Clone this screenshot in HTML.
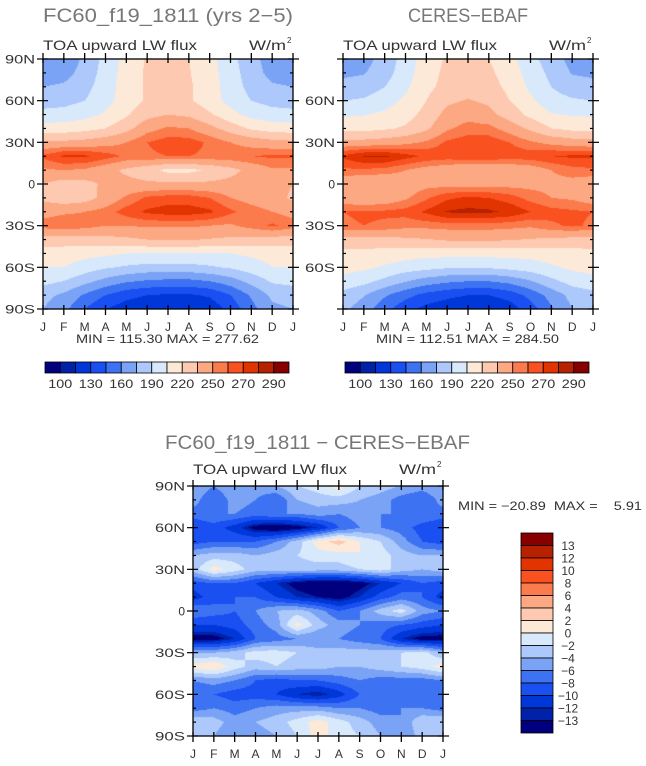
<!DOCTYPE html>
<html><head><meta charset="utf-8">
<style>
html,body{margin:0;padding:0;background:#fff;}
#wrap{position:relative;width:646px;height:766px;overflow:hidden;}
canvas{position:absolute;}
svg{position:absolute;left:0;top:0;}
text{font-family:"Liberation Sans",sans-serif;}
</style></head>
<body>
<div id="wrap">
<canvas id="c1" width="250" height="250" style="left:43px;top:59px"></canvas>
<canvas id="c2" width="250" height="250" style="left:343px;top:59px"></canvas>
<canvas id="c3" width="250" height="250" style="left:193px;top:486px"></canvas>
<svg id="ov" width="646" height="766"></svg>
</div>
<script>
const months = ["J","F","M","A","M","J","J","A","S","O","N","D","J"];
const latTicks = ["90N","60N","30N","0","30S","60S","90S"];
const rightLatTicks = ["60N","30N","0","30S","60S"];
const absLevels = [100,115,130,145,160,175,190,205,220,235,250,260,270,280,290];
const absLabels = ["100","130","160","190","220","250","270","290"];
const diffLevels = [-13,-12,-10,-8,-6,-4,-2,0,2,4,6,8,10,12,13];
const diffLabels = ["13","12","10","8","6","4","2","0","\u22122","\u22124","\u22126","\u22128","\u221210","\u221212","\u221213"];
const palette = ["#00007f","#0021a8","#0037d8","#1a4ff2","#3d72f2","#7ba3f5","#adc8fa","#d8e9fc","#fde9d8","#fdc9b0","#fca883","#fb7b4c","#fa5121","#e13400","#b62100","#870000"];
// rows: 90N,80N,...,90S ; columns: J..J (13)
const modelField = [
[165,165,178,195,210,222,224,220,210,195,180,168,165],
[168,170,180,197,211,222,224,221,211,197,182,170,168],
[175,177,185,198,212,222,224,222,212,198,185,177,175],
[183,185,190,200,212,222,226,222,212,200,190,185,183],
[195,196,200,207,218,230,235,232,222,210,200,196,195],
[212,212,215,220,230,245,252,250,240,228,218,213,212],
[238,238,240,244,250,260,265,265,258,250,244,240,238],
[262,272,272,265,258,258,260,260,258,258,260,262,262],
[248,250,248,240,232,225,216,216,222,230,240,248,248],
[235,228,230,238,240,238,238,238,238,240,242,242,235],
[232,225,228,240,252,262,265,265,260,250,245,242,232],
[245,248,250,255,265,272,275,275,272,262,255,250,245],
[255,258,255,250,250,252,252,252,250,248,255,262,255],
[228,228,228,230,232,235,236,236,234,232,230,228,228],
[212,212,210,208,205,205,205,205,205,205,208,210,212],
[205,205,198,192,188,185,185,185,188,192,198,205,205],
[195,190,180,170,162,158,156,156,160,168,180,192,195],
[180,172,158,145,135,130,128,128,132,145,162,178,180],
[175,165,145,130,122,118,116,116,120,135,155,172,175]];
const ceresField = [
[168,170,180,197,212,222,224,220,210,195,182,170,168],
[172,174,183,199,213,224,226,223,213,199,186,174,172],
[180,182,190,202,216,225,228,226,216,202,190,182,180],
[190,192,198,208,220,232,236,232,220,208,196,192,190],
[203,204,208,214,225,240,245,240,228,216,206,204,203],
[215,215,218,222,232,248,255,254,244,232,220,216,215],
[240,240,242,246,252,262,266,266,260,252,246,242,240],
[272,281,282,274,268,266,268,268,266,266,270,272,272],
[258,258,256,250,244,240,236,236,238,242,250,256,258],
[240,235,236,242,246,245,245,245,245,246,246,245,240],
[242,238,240,248,258,268,272,270,265,256,250,248,242],
[260,262,262,264,272,281,283,282,278,270,264,262,260],
[258,260,258,254,254,255,255,255,254,252,258,262,258],
[230,230,230,232,234,237,238,238,236,234,232,230,230],
[215,215,214,212,210,210,210,210,210,210,212,214,215],
[210,208,203,198,195,192,192,192,195,198,203,208,210],
[200,195,186,176,168,163,160,160,165,174,186,196,200],
[185,176,162,150,140,134,130,130,136,150,166,180,185],
[178,168,150,135,125,120,116,116,122,138,158,175,178]];
const diffField = [
[-4,-6,-4,-5,-4,-2,-1,1,-2,-3,-4,-5,-4],
[-5,-8,-5,-6,-8,-4,-3,-3,-4,-5,-7,-8,-5],
[-7,-6,-6,-7,-6,-6,-5,-6,-5,-6,-6,-6,-7],
[-10,-9,-11,-14,-15,-14,-12,-8,-6,-6,-7,-9,-10],
[-9,-8,-8,-8,-6,-3,1,3,0,-2,-5,-8,-9],
[-4,-3,-3,-4,-3,-2,-1,-1,0,-1,-3,-4,-4],
[-3,1,-1,-3,-3,-3,-3,-3,-2,-1,-3,-4,-3],
[-9,-8,-8,-10,-12,-14,-15,-15,-14,-12,-10,-8,-9],
[-11,-9,-8,-8,-10,-12,-13,-14,-12,-9,-7,-8,-11],
[-6,-7,-8,-6,-4,-3,-5,-8,-6,-3,-1,-5,-6],
[-10,-10,-9,-7,-5,1,-3,-5,-6,-7,-8,-9,-10],
[-14,-14,-12,-8,-7,-6,-6,-6,-7,-8,-12,-14,-14],
[-4,-4,-3,-1,-1,-2,-3,-3,-3,-3,-2,-1,-4],
[1,2,-1,-3,-2,-3,-3,-4,-4,-3,-2,-1,1],
[-6,-5,-6,-8,-9,-8,-8,-7,-6,-7,-7,-7,-6],
[-8,-8,-9,-9,-10,-12,-13,-11,-8,-7,-7,-8,-8],
[-7,-6,-7,-6,-5,-5,-5,-6,-6,-7,-6,-6,-7],
[-2,-3,-5,-4,-3,-1,1,-1,-3,-5,-6,-2,-2],
[-3,-4,-6,-5,-4,-2,1,-1,-2,-4,-6,-3,-3]];

function hex(c){return [parseInt(c.substr(1,2),16),parseInt(c.substr(3,2),16),parseInt(c.substr(5,2),16)];}
const rgb = palette.map(hex);
function level(v,levels){let i=0;while(i<levels.length&&v>=levels[i])i++;return i;}
function drawField(id,field,levels){
  const cv=document.getElementById(id),ctx=cv.getContext('2d');
  const W=cv.width,H=cv.height,img=ctx.createImageData(W,H);
  const nr=field.length,nc=field[0].length;
  for(let y=0;y<H;y++){
    const fy=(y+0.5)/H*(nr-1),r0=Math.min(Math.floor(fy),nr-2),ty=fy-r0;
    for(let x=0;x<W;x++){
      const fx=(x+0.5)/W*(nc-1),c0=Math.min(Math.floor(fx),nc-2),tx=fx-c0;
      const v=(field[r0][c0]*(1-tx)+field[r0][c0+1]*tx)*(1-ty)+(field[r0+1][c0]*(1-tx)+field[r0+1][c0+1]*tx)*ty;
      const col=rgb[level(v,levels)],k=(y*W+x)*4;
      img.data[k]=col[0];img.data[k+1]=col[1];img.data[k+2]=col[2];img.data[k+3]=255;
    }
  }
  ctx.putImageData(img,0,0);
}
drawField('c1',modelField,absLevels);
drawField('c2',ceresField,absLevels);
drawField('c3',diffField,diffLevels);

const NS="http://www.w3.org/2000/svg",svg=document.getElementById('ov');
function el(tag,attrs,parent){const e=document.createElementNS(NS,tag);for(const k in attrs)e.setAttribute(k,attrs[k]);(parent||svg).appendChild(e);return e;}
function txt(s,x,y,size,fill,anchor,parent){const t=el('text',{x:x,y:y,'font-size':size,fill:fill,'text-anchor':anchor||'start'},parent);t.textContent=s;return t;}
function fit(t,len){t.setAttribute('textLength',len);t.setAttribute('lengthAdjust','spacingAndGlyphs');}

function axes(px,py,name,leftLabels){
  const g=el('g',{});
  
  
  const W=250,H=250;
  el('rect',{x:px,y:py,width:W,height:H,fill:'none',stroke:'#000','stroke-width':1.3},g);
  for(let i=0;i<months.length;i++){
    const x=px+i*W/12;
    el('line',{x1:x,y1:py+H-4,x2:x,y2:py+H+6,stroke:'#000','stroke-width':1.3},g);
    el('line',{x1:x,y1:py-6,x2:x,y2:py+4,stroke:'#000','stroke-width':1.3},g);
    const t=txt(months[i],x,py+H+22,12,'#333','middle',g);
    
    
  }
  for(let j=0;j<=18;j++){
    const y=py+j*H/18,maj=j%3===0;
    const lo=maj?6:0,li=maj?5:3;
    el('line',{x1:px-lo,y1:y,x2:px+li,y2:y,stroke:'#000','stroke-width':1.2},g);
    el('line',{x1:px+W-li,y1:y,x2:px+W+lo,y2:y,stroke:'#000','stroke-width':1.2},g);
  }
  for(let k=0;k<7;k++){
    const lab=latTicks[k];
    if(leftLabels!=='all'&&!rightLatTicks.includes(lab))continue;
    const t=txt(lab,px-8,py+k*H/6+4.5,12,'#333','end',g);
    if(lab.length===3)fit(t,30);
    
    
  }
}
axes(43,59,'model-axes','all');
axes(343,59,'ceres-axes','inner');
axes(193,486,'difference-axes','all');

let t;
t=txt('FC60_f19_1811 (yrs 2\u22125)',43,22,19,'#777');fit(t,250);
t=txt('CERES\u2212EBAF',408,22,19,'#777');fit(t,120);
t=txt('FC60_f19_1811 \u2212 CERES\u2212EBAF',165,449,19,'#777');fit(t,305);
[[43,50,293],[343,50,593],[193,474,443]].forEach(function(p){
  let a=txt('TOA upward LW flux',p[0],p[1],14,'#333');
  fit(a,154);
  
  
  let b=txt('W/m',p[2]-7,p[1],14,'#333','end');
  fit(b,37);
  
  
  let c=txt('2',p[2]-6,p[1]-7,8,'#333');
  
  
});
t=txt('MIN = 115.30  MAX = 277.62',76,343,12,'#333');fit(t,183);
t=txt('MIN = 112.51  MAX = 284.50',376,343,12,'#333');fit(t,183);
t=txt('MIN = \u221220.89  MAX =    5.91',458,510,12,'#333');t.setAttribute('xml:space','preserve');t.style.whiteSpace='pre';fit(t,184);

function hbar(x0,y0,name){
  const g=el('g',{});
  
  
  const W=244,H=11,bw=W/palette.length;
  for(let i=0;i<palette.length;i++){
    const r=el('rect',{x:x0+i*bw,y:y0,width:bw,height:H,fill:palette[i],stroke:'#000','stroke-width':0.8},g);
    
    
  }
  for(let k=0;k<absLabels.length;k++){
    const lt=txt(absLabels[k],x0+(2*k+1)*bw,y0+26,12,'#333','middle',g);
    fit(lt,24);
    
    
  }
}
hbar(45,362,'model-colorbar');
hbar(345,362,'ceres-colorbar');

(function(){
  const g=el('g',{});
  
  
  const x0=521,y0=533,W=32,H=200,n=palette.length,bh=H/n;
  for(let i=0;i<n;i++){
    const r=el('rect',{x:x0,y:y0+i*bh,width:W,height:bh,fill:palette[n-1-i],stroke:'#000','stroke-width':0.8},g);
    
    
  }
  for(let k=0;k<diffLabels.length;k++){
    const lt=txt(diffLabels[k],568,y0+(k+1)*bh+4.5,12,'#333','middle',g);
    
    
  }
})();
</script>
</body></html>
